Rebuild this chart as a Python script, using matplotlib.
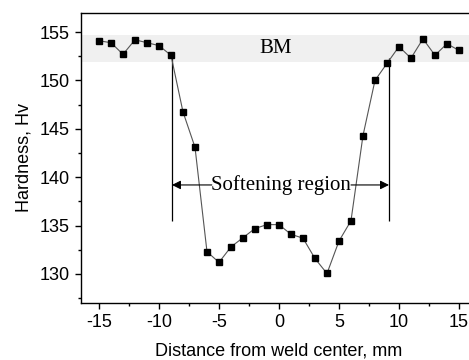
import matplotlib
matplotlib.use("Agg")
import matplotlib.pyplot as plt
from matplotlib.ticker import MultipleLocator

distance = [-15, -14, -13, -12, -11, -10, -9, -8, -7, -6, -5, -4, -3, -2, -1,
            0, 1, 2, 3, 4, 5, 6, 7, 8, 9, 10, 11, 12, 13, 14, 15]
hardness = [154.1, 153.9, 152.7, 154.2, 153.9, 153.6, 152.6, 146.75, 143.1,
            132.3, 131.2, 132.8, 133.75, 134.7, 135.1,
            135.1, 134.1, 133.7, 131.6, 130.05, 133.4, 135.5, 144.3, 150.0,
            151.76, 153.5, 152.3, 154.3, 152.6, 153.8, 153.1]
bm_band = (151.9, 154.7)
soft_left, soft_right = -8.92, 9.17
soft_top, soft_bottom = 152.3, 135.5
arrow_y = 139.2

fig = plt.figure(figsize=(4.69, 3.6), dpi=100)
ax = fig.add_axes([0.1727, 0.1583, 1.017 - 0.1727, 0.9647 - 0.1583])

ax.axhspan(bm_band[0], bm_band[1], color="#f0f0f0", zorder=0, lw=0)
ax.plot(distance, hardness, color="#555555", lw=0.8, marker="s", ms=4.8,
        mfc="black", mec="black", zorder=3)

ax.vlines([soft_left, soft_right], soft_bottom, soft_top, color="black", lw=0.9)

serif = ["Liberation Serif", "DejaVu Serif"]
ax.text(0.2, arrow_y, "Softening region", ha="center", va="center",
        fontsize=15, family=serif, zorder=4)
ax.annotate("", xy=(soft_left, arrow_y), xytext=(-5.6, arrow_y),
            arrowprops=dict(arrowstyle="-|>", color="black", lw=0.8,
                            mutation_scale=13, shrinkA=0, shrinkB=0))
ax.annotate("", xy=(soft_right, arrow_y), xytext=(6.0, arrow_y),
            arrowprops=dict(arrowstyle="-|>", color="black", lw=0.8,
                            mutation_scale=13, shrinkA=0, shrinkB=0))
ax.text(-0.3, 153.25, "BM", ha="center", va="center", fontsize=15, family=serif)

ax.set_xlim(-16.5, 16.5)
ax.set_ylim(127, 157)
ax.xaxis.set_major_locator(MultipleLocator(5))
ax.xaxis.set_minor_locator(MultipleLocator(2.5))
ax.yaxis.set_major_locator(MultipleLocator(5))
ax.yaxis.set_minor_locator(MultipleLocator(2.5))
ax.tick_params(which="major", direction="out", length=4, width=1, pad=4)
ax.tick_params(which="minor", direction="out", length=2.5, width=1)

sans = ["Liberation Sans", "DejaVu Sans"]
ax.set_xticks([-15, -10, -5, 0, 5, 10, 15])
ax.set_xticklabels(["-15", "-10", "-5", "0", "5", "10", "15"])
for lab in ax.get_xticklabels() + ax.get_yticklabels():
    lab.set_family(sans)
    lab.set_fontsize(13)
ax.set_xlabel("Distance from weld center, mm", family=sans, fontsize=13, labelpad=8)
ax.set_ylabel("Hardness, Hv", family=sans, fontsize=13, labelpad=5)
for s in ax.spines.values():
    s.set_linewidth(1)

fig.savefig("out.png", dpi=100)
